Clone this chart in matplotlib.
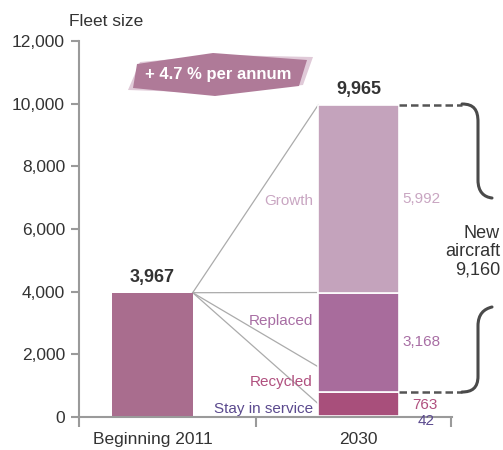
import matplotlib
matplotlib.use("Agg")
import matplotlib.pyplot as plt
from matplotlib.patches import Polygon, PathPatch
from matplotlib.path import Path

plt.rcParams['font.family'] = ['Liberation Sans Narrow', 'Liberation Sans', 'DejaVu Sans']

# ---- data ----
categories = ["Beginning 2011", "2030"]
fleet_2011 = 3967
segments = ["Stay in service", "Recycled", "Replaced", "Growth"]
seg_values = [42, 763, 3168, 5992]
total_2030 = 9965
new_aircraft = 9160
growth_rate_label = "+ 4.7 % per annum"
yticks = [0, 2000, 4000, 6000, 8000, 10000, 12000]
connector_targets = [9965, 3973, 1600, 420]

seg_colors = ["#6E5A9C", "#A84F7B", "#A86C9C", "#C4A3BC"]
seg_text_colors = ["#5B4A8E", "#B0507F", "#A86EA4", "#C9A6C2"]
bar2011_color = "#A96D8E"
left_label_y = [255, 1117, 3064, 6900]
right_label_offsets = [(14, -3), (10, -1), (3, 0), (3, 0)]

W, H = 503, 450
fig = plt.figure(figsize=(W / 100, H / 100), dpi=100)
ax = fig.add_axes([79 / W, 1 - 417 / H, (452 - 79) / W, (417 - 41) / H])

def fx(px):
    return px / W

def fy(py):
    return 1 - py / H

bw = 0.39
ax.set_xlim(-0.357, 1.454)
ax.set_ylim(0, 12000)

# connectors (behind bars)
for t in connector_targets:
    ax.plot([bw / 2, 1 - bw / 2], [fleet_2011, t], color="#ABABAB", lw=0.9, zorder=1)

# bars
ax.bar(0, fleet_2011, width=bw, color=bar2011_color, zorder=2)
bottom = 0
for v, c in zip(seg_values, seg_colors):
    ax.bar(1, v, width=bw, bottom=bottom, color=c, edgecolor="white", linewidth=1.2, zorder=2)
    bottom += v

# value labels
ax.annotate(f"{fleet_2011:,}", (0, fleet_2011), xytext=(0, 5), textcoords="offset points",
            ha="center", va="bottom", fontsize=13, fontweight="bold", color="#333333")
ax.annotate(f"{total_2030:,}", (1, total_2030), xytext=(0, 5), textcoords="offset points",
            ha="center", va="bottom", fontsize=13, fontweight="bold", color="#333333")

# segment labels right
bottom = 0
for i, (v, tc) in enumerate(zip(seg_values, seg_text_colors)):
    mid = bottom + v / 2
    ox, oy = right_label_offsets[i]
    ax.annotate(f"{v:,}", (1 + bw / 2, mid), xytext=(ox, oy), textcoords="offset points",
                ha="left", va="center", fontsize=11, color=tc, zorder=4)
    bottom += v

# segment labels left
for name, yv, tc in zip(segments, left_label_y, seg_text_colors):
    ax.annotate(name, (1 - bw / 2, yv), xytext=(-4, 0), textcoords="offset points",
                ha="right", va="center", fontsize=11, color=tc)

# axes styling
for s in ["top", "right"]:
    ax.spines[s].set_visible(False)
for s in ["left", "bottom"]:
    ax.spines[s].set_color("#9A9A9A")
    ax.spines[s].set_linewidth(1.5)
ax.set_yticks(yticks)
ax.set_yticklabels([f"{v:,}" for v in yticks])
ax.tick_params(axis="y", direction="out", length=6, width=1.5, color="#9A9A9A",
               labelsize=12.5, labelcolor="#333333", pad=4)
ax.set_xticks([0, 1])
ax.set_xticklabels(categories)
ax.tick_params(axis="x", which="major", length=0, labelsize=12.5, labelcolor="#333333", pad=11)
ax.set_xticks([-0.357, 0.5, 1.45], minor=True)
ax.tick_params(axis="x", which="minor", direction="out", length=7, width=1.5, color="#9A9A9A")

fig.text(fx(69), fy(22), "Fleet size", ha="left", va="center", fontsize=12.5, color="#333333")

# badge
light = Polygon([(fx(128), fy(90)), (fx(140), fy(62)), (fx(220), fy(55)), (fx(313), fy(57)),
                 (fx(303), fy(85)), (fx(215), fy(93))], closed=True, transform=fig.transFigure,
                facecolor="#E0CAD8", edgecolor="none")
dark = Polygon([(fx(137), fy(64)), (fx(213), fy(53)), (fx(307), fy(60)), (fx(299), fy(86)),
                (fx(215), fy(96)), (fx(133), fy(88))], closed=True, transform=fig.transFigure,
               facecolor="#AF7A98", edgecolor="none")
fig.patches.extend([light, dark])
fig.text(fx(218), fy(75), growth_rate_label, ha="center", va="center", fontsize=12,
         fontweight="bold", color="white")

# dashed bracket lines
top_all = sum(seg_values)
bot_new = seg_values[0] + seg_values[1]
xr = 1 + bw / 2
x_end = (462 - 79) / 206 - 0.357
for yv in [top_all, bot_new]:
    ax.plot([xr, x_end], [yv, yv], color="#555555", lw=1.8, dashes=(3, 1.6), clip_on=False, zorder=3)

# braces (pixel coordinates)
def brace(pts, codes):
    verts = [(fx(x), fy(y)) for x, y in pts]
    p = PathPatch(Path(verts, codes), transform=fig.transFigure, facecolor="none",
                  edgecolor="#4A4A4A", lw=2.2, capstyle="round")
    fig.patches.append(p)

C = Path.CURVE4
brace([(462, 104), (474, 104), (478, 110), (478, 122), (478, 180), (478, 192), (484, 197), (492, 198)],
      [Path.MOVETO, C, C, C, Path.LINETO, C, C, C])
brace([(492, 307), (484, 309), (478, 314), (478, 326), (478, 376), (478, 388), (472, 392), (462, 392)],
      [Path.MOVETO, C, C, C, Path.LINETO, C, C, C])

fig.text(fx(500), fy(252), f"New\naircraft\n{new_aircraft:,}", ha="right", va="center",
         fontsize=13, color="#333333", linespacing=1.1)

fig.savefig("out.png", dpi=100)
